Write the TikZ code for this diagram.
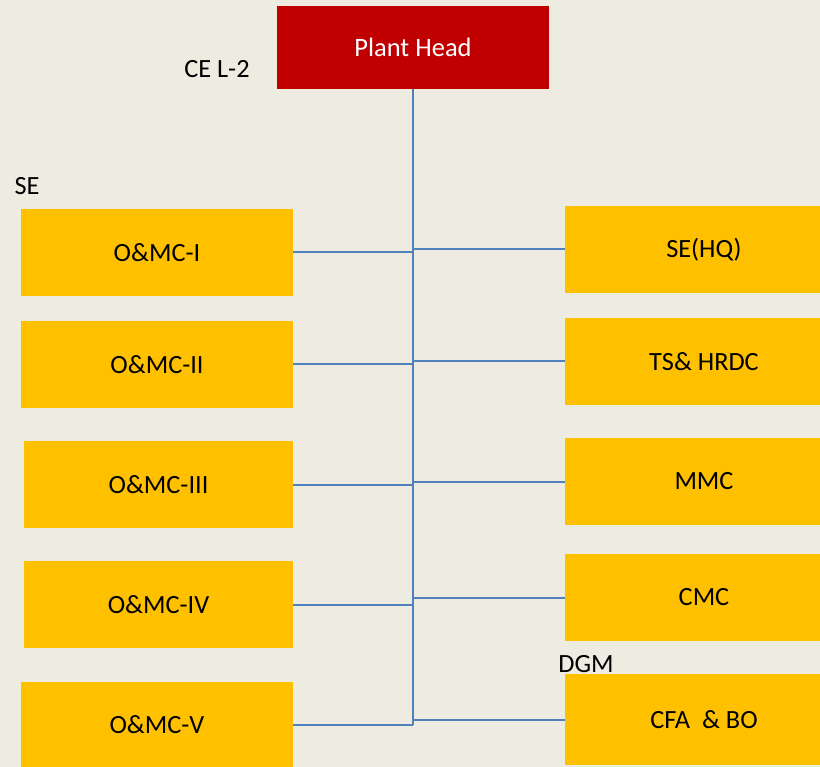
\documentclass[tikz,border=0pt]{standalone}
\usepackage{fontspec}
\setmainfont{Carlito}
\definecolor{bgcol}{HTML}{EEEBE0}
\definecolor{headred}{HTML}{C00000}
\definecolor{unitgold}{HTML}{FFC000}
\definecolor{linkblue}{HTML}{4F81BD}
\tikzset{
  headbox/.style={fill=headred, text=white, minimum width=272pt, minimum height=83pt, inner sep=0pt, font=\fontsize{26.5}{30}\selectfont},
  unitbox/.style={fill=unitgold, text=black, minimum height=87pt, inner sep=0pt, font=\fontsize{26.3}{30}\selectfont},
  tag/.style={inner sep=0pt, font=\fontsize{26.3}{30}\selectfont},
  link/.style={draw=linkblue, line width=2pt}
}
\begin{document}
\begin{tikzpicture} [x=1pt,y=-1pt]

\fill [bgcol] (0,0) rectangle (820,767);
\useasboundingbox (0,0) rectangle (820,767);

\node [headbox] (head) at (413,47.5) {Plant Head};
\node [tag] (ce) at (217,69) {CE L-2};
\node [tag] (se) at (27,186) {SE};
\node [tag] (dgm) at (586,664) {DGM};

% left column
\node [unitbox, minimum width=272pt] (om1) at (157,252.5) {O\&MC-I};
\node [unitbox, minimum width=272pt] (om2) at (157,364.5) {O\&MC-II};
\node [unitbox, minimum width=269pt] (om3) at (158.5,484.5) {O\&MC-III};
\node [unitbox, minimum width=269pt] (om4) at (158.5,604.5) {O\&MC-IV};
\node [unitbox, minimum width=272pt] (om5) at (157,725) {O\&MC-V};

% right column
\node [unitbox, minimum width=278pt] (hq) at (704,249.5) {SE(HQ)};
\node [unitbox, minimum width=278pt] (ts) at (704,361.5) {TS\& HRDC};
\node [unitbox, minimum width=278pt] (mmc) at (704,481.5) {MMC};
\node [unitbox, minimum width=278pt] (cmc) at (704,597.5) {CMC};
\node [unitbox, minimum width=278pt, minimum height=91pt] (cfa) at (704,719.5) {CFA \ \& BO};

\draw [link] (head.south) -- (head.south |- om5.east);
\foreach \u in {om1,om2,om3,om4,om5}
  \draw [link] (\u.east) -- (\u.east -| head.south);
\foreach \u in {hq,ts,mmc,cmc,cfa}
  \draw [link] (\u.west) -- (\u.west -| head.south);

\end{tikzpicture}
\end{document}
